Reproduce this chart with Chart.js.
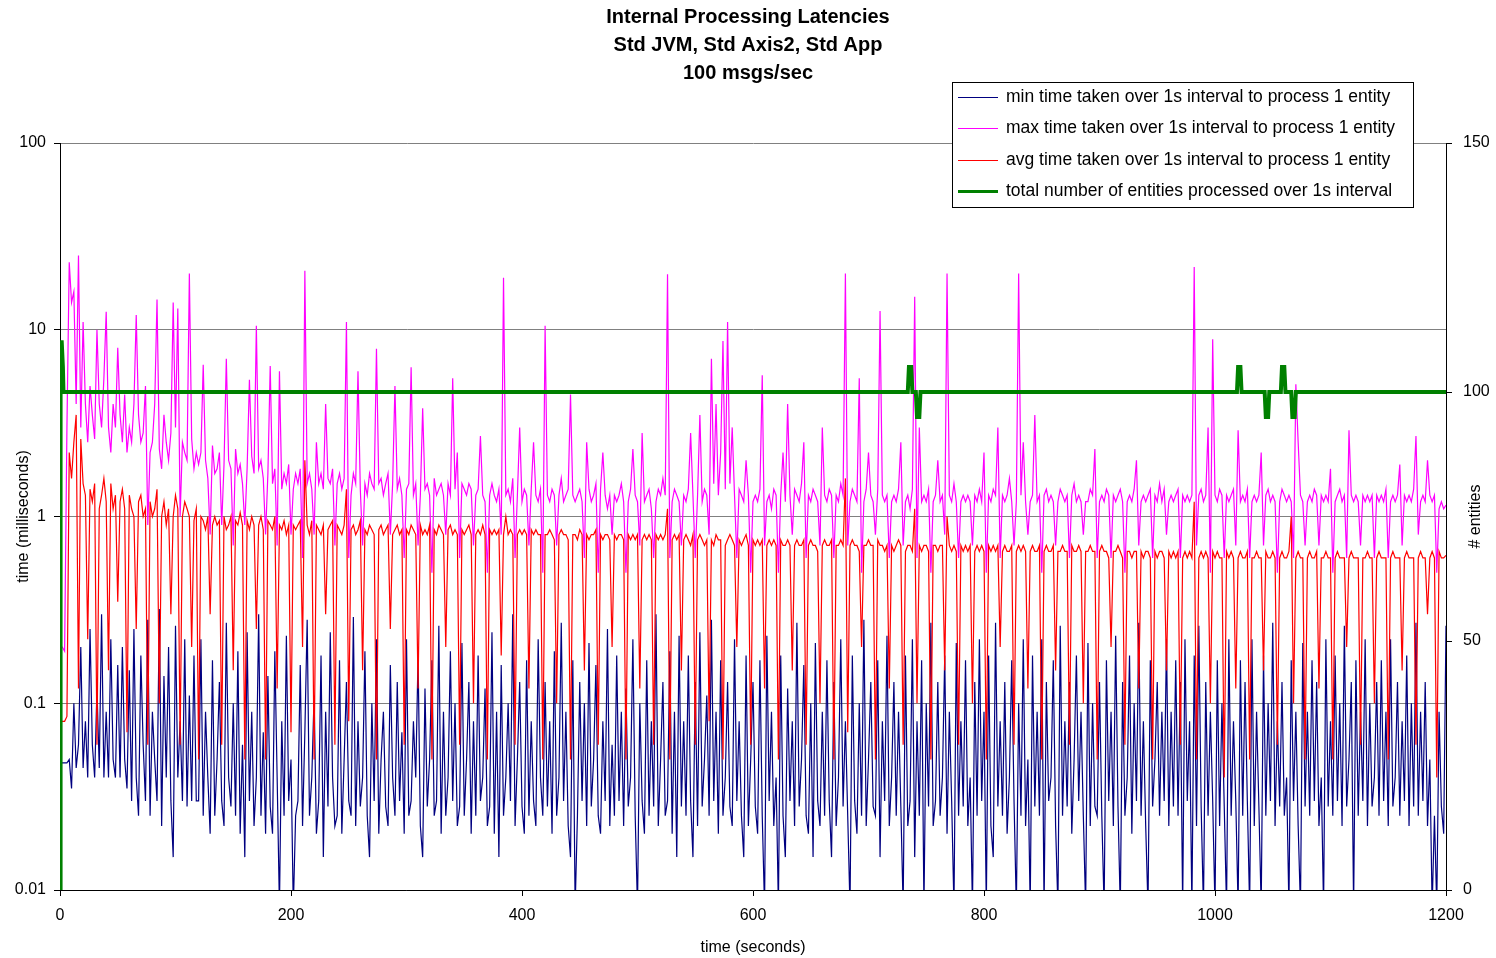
<!DOCTYPE html>
<html><head><meta charset="utf-8">
<script src="https://cdn.jsdelivr.net/npm/chart.js"></script>
<style>html,body{margin:0;padding:0;background:#fff;overflow:hidden}#wrap{position:relative;width:1496px;height:958px}</style>
</head><body><div id="wrap"><canvas id="c" width="1496" height="958"></canvas></div>
<script>
// sampling interval of the three latency series (seconds)
const SAMPLE_STEP_S = 2;

const titleLines = ["Internal Processing Latencies", "Std JVM, Std Axis2, Std App", "100 msgs/sec"];
const seriesLabels = [
  "min time taken over 1s interval to process 1 entity",
  "max time taken over 1s interval to process 1 entity",
  "avg time taken over 1s interval to process 1 entity",
  "total number of entities processed over 1s interval"
];
const timeTicks = [0, 200, 400, 600, 800, 1000, 1200];
const msTicks = [0.01, 0.1, 1, 10, 100];
const entityTicks = [0, 50, 100, 150];

// min latency (ms), one value every 2 s from t=0 to t=1200
const minTime = [
.048,.048,.048,.048,.05,.035,.1,.045,.06,.2,.045,.08,.04,.25,.06,.04,.12,.045,.3,.04,.09,.04,.22,.05,.04,.16,.04,.2,.05,.035,
.15,.03,.25,.04,.025,.18,.06,.03,.28,.025,.09,.05,.03,.32,.022,.14,.04,.2,.03,.015,.26,.04,.08,.03,.22,.028,.11,.03,.18,.03,
.03,.22,.025,.09,.04,.02,.17,.025,.05,.13,.03,.022,.27,.04,.028,.1,.025,.19,.02,.06,.015,.24,.03,.09,.022,.04,.3,.025,.07,.02,
.14,.028,.02,.19,.04,.008,.08,.025,.23,.03,.05,.008,.025,.03,.16,.022,.07,.28,.025,.04,.11,.02,.03,.18,.015,.09,.028,.24,.04,.022,
.025,.17,.02,.05,.13,.03,.025,.29,.022,.08,.028,.04,.19,.025,.015,.1,.03,.22,.02,.05,.09,.028,.022,.16,.04,.025,.13,.03,.07,.02,
.22,.025,.03,.08,.04,.18,.022,.015,.12,.028,.05,.17,.025,.03,.26,.02,.09,.025,.04,.19,.03,.1,.022,.028,.21,.025,.05,.13,.02,.08,
.025,.18,.03,.04,.12,.022,.028,.24,.02,.09,.015,.16,.025,.04,.1,.03,.3,.022,.05,.13,.028,.02,.17,.025,.08,.03,.022,.22,.04,.025,
.13,.028,.08,.02,.19,.025,.04,.27,.03,.09,.022,.015,.17,.008,.025,.13,.03,.1,.022,.21,.028,.05,.16,.025,.02,.08,.03,.25,.022,.06,
.025,.18,.03,.09,.022,.12,.028,.04,.22,.025,.008,.1,.03,.02,.17,.025,.08,.028,.3,.022,.05,.13,.025,.03,.19,.02,.09,.015,.23,.028,
.08,.025,.18,.03,.015,.13,.022,.24,.028,.05,.11,.025,.28,.03,.09,.02,.17,.025,.04,.13,.028,.022,.22,.03,.08,.025,.015,.18,.022,.05,
.13,.028,.02,.17,.025,.008,.23,.03,.09,.022,.04,.008,.18,.025,.015,.12,.03,.08,.022,.27,.028,.05,.16,.025,.02,.1,.015,.21,.03,.022,
.09,.025,.17,.03,.015,.13,.022,.04,.22,.028,.08,.025,.008,.18,.03,.02,.1,.025,.28,.022,.05,.13,.028,.025,.17,.015,.08,.03,.23,.022,
.04,.13,.025,.09,.028,.008,.18,.022,.03,.22,.015,.08,.025,.17,.008,.1,.028,.27,.022,.03,.13,.025,.04,.18,.02,.09,.03,.008,.21,.025,
.08,.028,.17,.022,.04,.008,.13,.025,.22,.03,.09,.008,.18,.022,.015,.27,.028,.08,.025,.13,.02,.04,.17,.03,.008,.1,.025,.22,.022,.05,
.008,.18,.028,.09,.025,.22,.008,.13,.03,.04,.17,.022,.008,.26,.025,.08,.028,.13,.02,.05,.18,.03,.09,.025,.008,.21,.022,.1,.028,.025,
.13,.025,.008,.17,.03,.09,.022,.23,.028,.008,.13,.025,.04,.18,.02,.1,.03,.27,.025,.08,.022,.008,.17,.028,.05,.13,.025,.09,.03,.22,
.022,.09,.028,.17,.025,.13,.008,.22,.03,.08,.008,.18,.022,.26,.028,.008,.13,.025,.09,.03,.008,.17,.022,.1,.028,.008,.22,.025,.08,.03,
.008,.17,.025,.13,.03,.008,.22,.022,.09,.028,.008,.18,.025,.1,.03,.27,.022,.08,.028,.13,.025,.04,.008,.17,.03,.09,.022,.008,.21,.028,
.09,.025,.17,.03,.13,.022,.04,.008,.22,.028,.08,.025,.18,.03,.1,.022,.26,.028,.05,.13,.008,.17,.025,.09,.03,.22,.022,.1,.028,.04,
.13,.025,.17,.03,.09,.022,.22,.028,.04,.13,.025,.08,.03,.18,.022,.1,.028,.27,.025,.09,.03,.13,.022,.05,.008,.025,.008,.09,.028,.02,
.26];

// max latency (ms)
const maxTime = [
.2,.2,.19,3,23,14,16,4,25,3,11,4,2.5,5,3.5,2.6,10,4,3,5.5,12.5,3,2.2,4,3,8,3.5,2.5,4.5,2.2,
3,2.5,4,12,3.5,2.5,2.8,5,.9,2.2,2.5,4,14.5,2.3,1.8,3.5,2.5,2,2.8,14,3,13,1,2.5,2.2,2,20,2.6,1.8,2.2,
1.9,2.2,6.5,2,1.6,.8,2.4,1.7,1.8,2.2,.9,1.9,7,2,1.8,.7,2.3,1.7,1.9,1.5,.9,1.8,5.4,2.1,1.7,10.5,1.8,2,1.6,.8,
1.7,6.4,1.5,1.8,.7,6,1.4,1.7,1.5,1.9,.8,1.4,1.7,1.5,1.8,.6,20.7,1.5,1.7,1.4,.8,2.5,1.5,1.7,1.4,4,1.6,1.5,1.8,.7,
1.5,1.7,1.4,1.6,11,.6,1.3,1.7,1.5,6,1.4,.7,1.5,1.3,1.7,1.5,1.4,7.9,1.5,1.6,1.3,1.5,1.7,.8,1.5,5,1.4,1.6,1.3,.6,
1.4,1.5,6.3,1.3,1.5,.7,1.3,3.8,1.4,1.5,1.3,.5,1.6,1.3,1.4,1.5,1.3,.8,1.5,1.3,5.5,1.4,2.2,.6,1.5,1.4,1.3,1.5,1.4,.7,
1.3,1.4,2.7,1.3,1.2,.5,1.3,1.5,1.3,1.2,1.4,.8,19,1.3,1.4,1.2,1.6,.6,1.3,3,1.2,1.4,1.3,.7,1.4,2.5,1.3,1.2,1.4,.5,
10.5,1.3,1.2,1.4,1.3,.7,1.3,1.6,1.2,1.3,1.4,4.5,1.3,1.2,1.3,1.4,1.2,.6,2.5,1.4,1.2,1.3,1.5,.5,1.4,2.2,1.3,1.1,1.3,.8,
1.3,1.2,1.3,1.5,1.2,.5,1.2,1.4,2.3,1.3,1.2,.7,2.8,1.2,1.3,1.4,1.1,.6,1.2,1.4,1.3,1.6,1.3,19.8,.6,1.2,1.4,1.3,1.2,.7,
1.3,1.2,1.4,2.8,1.3,.6,1.3,3.5,1.2,1.4,1.3,.8,7,1.5,4,1.3,2.2,8.7,1.4,11,1.5,3,1.3,.6,1.4,1.3,1.2,2,1.3,.5,
1.2,1.3,1.2,1.4,5.7,.7,1.2,1.3,1.1,1.4,1.3,.5,1.3,2.2,1.2,4,1.3,.8,1.4,1.3,1.2,1.5,2.5,.6,1.3,1.2,1.4,1.3,1.2,.7,
3,1.3,1.2,1.4,1.3,.6,1.3,1.2,1.5,1.3,20,.7,1.2,1.4,1.3,1.2,5.5,.5,1.2,1.4,2.2,1.3,1.2,.8,1.4,12.6,1.3,1.2,1.3,.6,
1.2,1.3,1.2,1.4,2.5,.7,1.2,1.3,1.1,1.4,15,.6,3,1.2,1.3,1.2,1.4,.5,1.2,1.3,2,1.2,1.3,.8,20,1.3,1.2,1.5,1.2,.6,
1.2,1.3,1.2,1.3,1.2,.7,1.3,1.2,1.4,1.2,2.2,.5,1.3,1.2,1.4,1.3,3,.6,1.3,1.2,1.3,1.6,1.2,.7,1.2,20,1.3,2.5,1.2,.8,
1.2,1.3,3.5,1.2,1.3,.5,1.3,1.4,1.2,1.3,1.2,.7,1.2,1.4,1.3,1.2,1.3,.6,1.3,1.5,1.2,1.3,1.2,.8,1.2,1.2,1.4,1.3,2.3,.6,
1.2,1.3,1.2,1.4,1.3,.6,1.3,1.2,1.3,1.4,1.2,.5,1.2,1.3,1.2,1.4,2,.7,1.2,1.3,1.2,1.3,1.4,.6,1.3,1.2,1.5,1.2,1.4,.8,
1.2,1.3,1.2,1.3,1.4,.6,1.3,1.2,1.3,1.2,1.3,21.7,.7,1.3,1.4,1.2,1.3,3,.5,8.9,1.3,1.2,1.4,1.3,.6,1.3,1.2,1.3,1.4,.7,
2.9,1.2,1.3,1.2,1.4,.6,1.2,1.3,1.2,1.3,2.2,.7,1.3,1.4,1.2,1.3,1.2,.5,1.2,1.4,1.3,1.2,1.3,1.2,.6,5.1,2.5,1.3,1.2,.7,
1.2,1.3,1.2,1.4,1.3,.7,1.3,1.2,1.3,1.2,1.8,.5,1.2,1.3,1.4,1.2,1.3,.6,2.9,1.3,1.2,1.3,1.2,.7,1.3,1.2,1.3,1.2,1.3,.6,
1.3,1.2,1.3,1.2,1.4,.6,1.2,1.3,1.2,1.3,1.9,.7,1.3,1.2,1.3,1.2,1.4,2.7,.8,1.2,1.3,1.2,2,1.3,1.2,1.3,.5,1.1,1.2,1.1,
1.15];

// average latency (ms)
const avgTime = [
.08,.08,.08,.085,2.2,1.6,2.5,3.5,.12,2.6,1.5,1.3,.22,1.4,1.2,1.5,.06,1.1,1.3,1.6,1.2,.15,1.5,1.1,1.3,.35,1.2,1.4,1.1,.07,
1.3,1.1,1.0,.25,1.2,1.3,1.0,1.1,.06,1.2,1.0,1.1,1.4,.1,1.0,1.2,.9,1.1,.3,1.0,1.3,1.1,.06,1.0,1.2,1.1,1.0,.2,.95,1.1,
.05,1.0,.95,.85,1.0,.3,.9,1.0,.9,.95,.06,1.0,.85,.9,1.0,.15,.95,.9,1.05,.9,.05,.95,.85,1.0,.9,.25,.9,1.0,.85,.05,
.95,.9,.85,1.0,.12,.9,.85,.95,.8,.9,.07,.9,.85,.9,.95,.2,2.0,.9,.8,.95,.05,.9,.85,.8,.9,.3,.85,.9,.95,.06,
.9,.85,.8,.9,1.4,.08,.85,.9,.8,.85,.95,.15,.85,.8,.9,.85,.8,.05,.85,.9,.8,.85,.9,.25,.8,.85,.9,.8,.85,.06,
.85,.8,.9,.85,.8,.12,.9,.8,.85,.8,.9,.05,.85,.8,.9,.85,.8,.2,.85,.9,.8,.85,.8,.06,.85,.8,.85,.9,.8,.1,
.8,.85,.8,.9,.8,.05,.85,.8,.85,.8,.85,.18,.8,1.0,.8,.85,.8,.06,.8,.85,.8,.85,.8,.12,.85,.8,.85,.8,.8,.05,
.8,.8,.85,.8,.75,.1,.8,.85,.8,.8,.75,.05,.8,.8,.75,.85,.8,.15,.8,.75,.8,.8,.85,.06,.8,.75,.8,.8,.75,.2,
.8,.75,.8,.8,.75,.05,.8,.75,.8,.75,.8,.12,.75,.8,.75,.8,.75,.06,.8,.75,.8,.75,.8,1.1,.05,.75,.8,.75,.8,.15,
.75,.8,.75,.7,.8,.06,.75,.8,.75,.7,.75,.08,.75,.7,.8,.75,.75,.05,.7,.75,.8,.75,.7,.2,.75,.7,.75,.8,.7,.06,
.75,.7,.75,.7,.75,.12,.7,.75,.7,.75,.7,.05,.75,.7,.7,.75,.7,.15,.7,.75,.7,.7,.75,.06,.7,.75,.7,.7,.65,.1,
.7,.75,.7,.7,.75,.05,.7,.7,.75,.7,1.6,.07,.7,.75,.7,.7,.65,.2,.7,.7,.75,.7,.7,.05,.75,.7,.7,.65,.7,.12,
.7,.65,.7,.75,.7,.06,.65,.7,.7,.65,1.1,.1,.7,.65,.7,.7,.65,.05,.7,.7,.65,.7,.7,.15,1.0,.7,.65,.7,.65,.06,
.7,.65,.7,.65,.7,.1,.65,.7,.65,.7,.65,.05,.7,.65,.7,.65,.7,.2,.65,.7,.65,.65,.7,.06,.65,.7,.65,.7,.65,.12,
.65,.7,.65,.65,.7,.05,.65,.7,.65,.65,.7,.15,.65,.65,.7,.65,.65,.06,.7,.65,.65,.7,.65,.1,.65,.65,.7,.65,.65,.05,
.65,.7,.65,.65,.6,.2,.65,.65,.7,.65,.6,.06,.65,.65,.6,.65,.65,.12,.65,.6,.65,.65,.6,.05,.65,.6,.65,.65,.6,.15,
.65,.6,.65,.6,.65,.06,.6,.65,.6,.65,.6,1.2,.05,.6,.65,.6,.65,.6,.1,.65,.6,.65,.6,.6,.04,.65,.6,.65,.6,.12,
.6,.65,.6,.6,.65,.05,.6,.6,.65,.6,.6,.15,.65,.6,.6,.65,.6,.06,.6,.65,.6,.6,.65,1.0,.1,.6,.65,.6,.6,.05,
.6,.65,.6,.6,.65,.12,.6,.6,.65,.6,.6,.05,.6,.65,.6,.6,.6,.2,.6,.65,.6,.6,.6,.06,.6,.6,.65,.6,.6,.1,
.6,.65,.6,.6,.6,.05,.6,.65,.6,.6,.6,.15,.6,.65,.6,.6,.6,.06,.6,.65,.6,.6,.3,.6,.65,.6,.04,.65,.6,.6,
.62];

// entities processed per interval (time in s, count)
const entityTimes  = [0, 0.5, 1.5, 2.5, 3, 734, 735, 737, 738, 741, 742, 744, 745, 1019, 1020, 1022, 1023, 1043, 1044, 1046, 1047, 1057, 1058, 1060, 1061, 1066, 1067, 1069, 1070, 1200];
const entityCounts = [0, 110, 110, 105, 100, 100, 105, 105, 100, 100, 95, 95, 100, 100, 105, 105, 100, 100, 95, 95, 100, 100, 105, 105, 100, 100, 95, 95, 100, 100];

const FONT = "'Liberation Sans', Arial, Helvetica, sans-serif";
Chart.defaults.font.family = FONT;
Chart.defaults.color = '#000';

const toXY = vals => vals.map((v, i) => ({x: i * SAMPLE_STEP_S, y: v}));

const legendBox = {
  id: 'legendBox',
  afterDraw(chart) {
    const ctx = chart.ctx;
    ctx.save();
    const bx = 952.5, by = 82.5, bw = 461, bh = 125;
    ctx.fillStyle = '#fff';
    ctx.fillRect(bx, by, bw, bh);
    ctx.strokeStyle = '#000';
    ctx.lineWidth = 1;
    ctx.strokeRect(bx, by, bw, bh);
    ctx.font = "17.5px " + FONT;
    ctx.textBaseline = 'middle';
    ctx.textAlign = 'left';
    chart.data.datasets.forEach((ds, i) => {
      const y = Math.round(97 + i * 31.3) + 0.5;
      ctx.strokeStyle = ds.borderColor;
      ctx.lineWidth = ds.borderWidth > 2 ? 3 : 1;
      ctx.beginPath();
      ctx.moveTo(958, y);
      ctx.lineTo(998, y);
      ctx.stroke();
      ctx.fillStyle = '#000';
      ctx.fillText(ds.label, 1006, y);
    });
    // right axis title, reading bottom-to-top
    ctx.save();
    ctx.translate(1476, (chart.chartArea.top + chart.chartArea.bottom) / 2);
    ctx.rotate(-Math.PI / 2);
    ctx.font = "16px " + FONT;
    ctx.textAlign = 'center';
    ctx.fillText('# entities', 0, 0);
    ctx.restore();
    ctx.restore();
  }
};

new Chart(document.getElementById('c'), {
  type: 'line',
  data: {
    datasets: [
      {label: seriesLabels[0], data: toXY(minTime), borderColor: '#000080', borderWidth: 1.2, yAxisID: 'y', order: 4},
      {label: seriesLabels[1], data: toXY(maxTime), borderColor: '#ff00ff', borderWidth: 1.2, yAxisID: 'y', order: 3},
      {label: seriesLabels[2], data: toXY(avgTime), borderColor: '#ff0000', borderWidth: 1.2, yAxisID: 'y', order: 2},
      {label: seriesLabels[3], data: entityTimes.map((t, i) => ({x: t, y: entityCounts[i]})), borderColor: '#008000', borderWidth: 4, yAxisID: 'y2', order: 1}
    ]
  },
  options: {
    responsive: false,
    animation: false,
    devicePixelRatio: 1,
    layout: {padding: 0},
    elements: {point: {radius: 0, hoverRadius: 0}, line: {tension: 0, fill: false}},
    plugins: {
      legend: {display: false},
      tooltip: {enabled: false},
      title: {
        display: true, text: titleLines, color: '#000',
        font: {size: 20, weight: 'bold', lineHeight: 1.4},
        padding: {top: 3, bottom: 56}
      }
    },
    scales: {
      x: {
        type: 'linear', position: 'bottom', min: 0, max: 1200,
        afterBuildTicks: s => { s.ticks = timeTicks.map(v => ({value: v})); },
        grid: {drawOnChartArea: false, tickLength: 6, tickColor: '#000', color: '#000'},
        border: {color: '#000', width: 1},
        ticks: {font: {size: 16}, color: '#000', padding: 10, maxRotation: 0, autoSkip: false, callback: v => String(v)},
        title: {display: true, text: 'time (seconds)', font: {size: 16}, color: '#000', padding: {top: 0, bottom: 1}},
        afterFit: s => { s.height = 68; }
      },
      y: {
        type: 'logarithmic', position: 'left', min: 0.01, max: 100,
        afterBuildTicks: s => { s.ticks = msTicks.map(v => ({value: v, major: true})); },
        grid: {color: '#808080', tickColor: '#000', tickLength: 6, lineWidth: 1},
        border: {color: '#000', width: 1},
        ticks: {font: {size: 16}, color: '#000', padding: 8, autoSkip: false, callback: v => String(v)},
        title: {display: true, text: 'time (milliseconds)', font: {size: 16}, color: '#000', padding: {top: 14, bottom: 0}},
        afterFit: s => { s.width = 60; }
      },
      y2: {
        type: 'linear', position: 'right', min: 0, max: 150,
        afterBuildTicks: s => { s.ticks = entityTicks.map(v => ({value: v})); },
        grid: {drawOnChartArea: false, tickColor: '#000', color: '#000', tickLength: 6},
        border: {color: '#000', width: 1},
        ticks: {font: {size: 16}, color: '#000', padding: 11, autoSkip: false},
        afterFit: s => { s.width = 50; }
      }
    }
  },
  plugins: [legendBox]
});
</script>
</body></html>
